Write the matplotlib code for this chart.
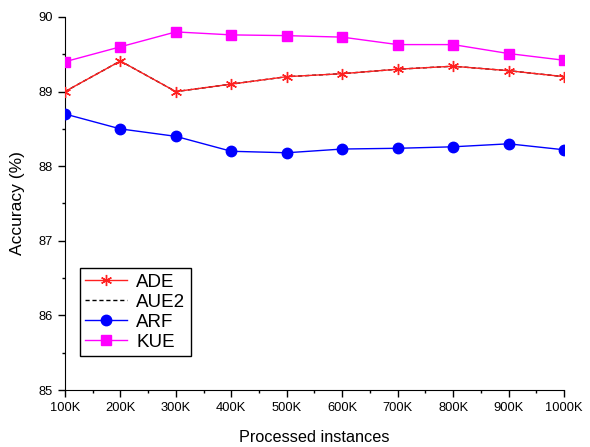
import matplotlib
matplotlib.use("Agg")
import matplotlib.pyplot as plt
from matplotlib.ticker import MultipleLocator

plt.rcParams['font.family'] = ['Liberation Sans', 'DejaVu Sans']

x_labels = ["100K", "200K", "300K", "400K", "500K", "600K", "700K", "800K", "900K", "1000K"]
x_vals = [1, 2, 3, 4, 5, 6, 7, 8, 9, 10]
ade = [89.00, 89.41, 89.00, 89.10, 89.20, 89.24, 89.30, 89.34, 89.28, 89.20]
aue2 = [89.00, 89.41, 89.00, 89.10, 89.20, 89.24, 89.30, 89.34, 89.28, 89.20]
arf = [88.70, 88.50, 88.40, 88.20, 88.18, 88.23, 88.24, 88.26, 88.30, 88.22]
kue = [89.40, 89.60, 89.80, 89.76, 89.75, 89.73, 89.63, 89.63, 89.51, 89.42]

fig = plt.figure(figsize=(5.9, 4.47), dpi=100)
ax = fig.add_axes([0.110, 0.1275, 0.846, 0.8345])

ax.plot(x_vals, kue, color='#ff00ff', marker='s', markersize=6.5, lw=1, label='KUE', zorder=3)
ax.plot(x_vals, arf, color='#0000ff', marker='o', markersize=7.5, lw=1, label='ARF', zorder=3)
ax.plot(x_vals, aue2, color='black', ls='--', dashes=(3, 2), lw=1, label='AUE2', zorder=3)
ax.plot(x_vals, ade, color='#ff2020', marker=(6, 2, 0), markersize=8, mew=1, lw=1, label='ADE', zorder=4)

ax.set_xlim(1, 10)
ax.set_ylim(85, 90)
ax.set_xticks(x_vals)
ax.set_xticklabels(x_labels)
ax.xaxis.set_minor_locator(MultipleLocator(0.5))
ax.yaxis.set_major_locator(MultipleLocator(1))
ax.yaxis.set_minor_locator(MultipleLocator(0.5))
ax.tick_params(axis='both', which='major', direction='out', length=5, width=1, labelsize=9.3)
ax.tick_params(axis='both', which='minor', direction='out', length=2.5, width=1)
ax.spines['top'].set_visible(False)
ax.spines['right'].set_visible(False)

ax.set_xlabel('Processed instances', fontsize=11.7, labelpad=12)
ax.set_ylabel('Accuracy (%)', fontsize=12.5, labelpad=10)

handles, labels = ax.get_legend_handles_labels()
order = [3, 2, 1, 0]
leg = ax.legend([handles[i] for i in order], [labels[i] for i in order],
                loc='upper left', bbox_to_anchor=(0.03, 0.327), borderaxespad=0,
                fontsize=13.5, frameon=True, fancybox=False, edgecolor='black',
                framealpha=1, handlelength=2.2, handletextpad=0.5,
                labelspacing=0.15, borderpad=0.3)
leg.get_frame().set_linewidth(1)

fig.savefig('out.png', dpi=100)
